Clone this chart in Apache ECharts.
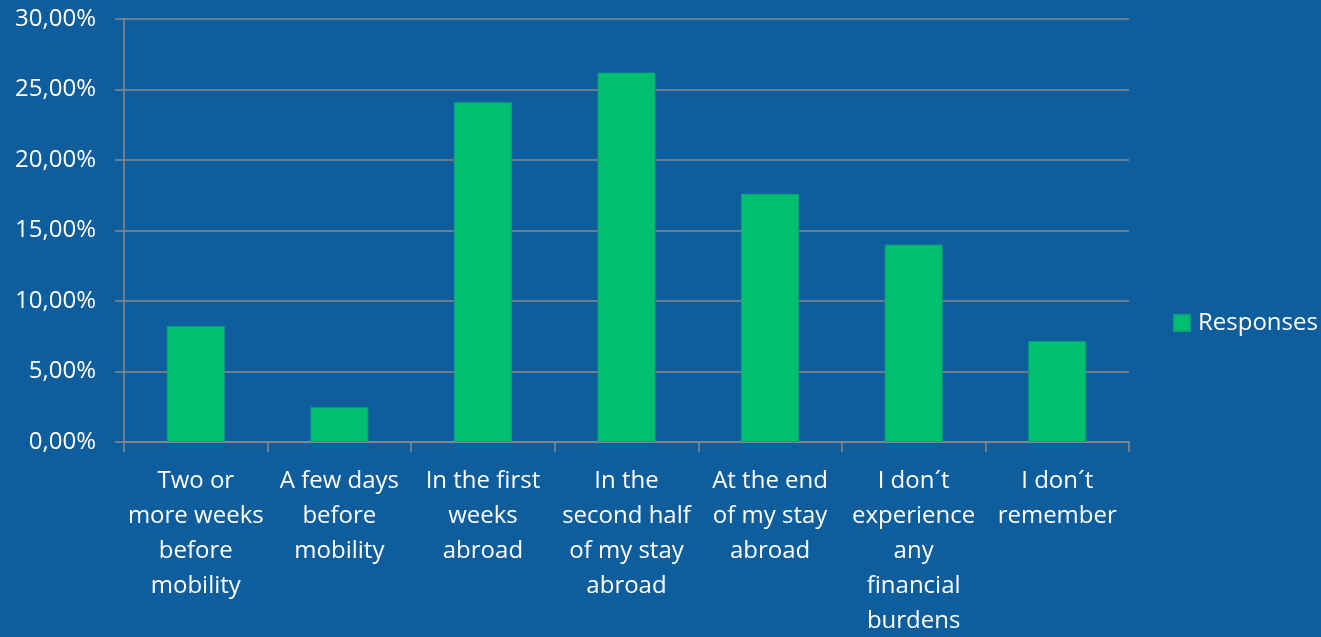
<!DOCTYPE html>
<html>
<head>
<meta charset="utf-8">
<script src="https://cdn.jsdelivr.net/npm/echarts@6/dist/echarts.min.js"></script>
<style>
  html, body { margin: 0; padding: 0; background: #0e5d9c; }
  #chart { width: 1321px; height: 637px; }
</style>
</head>
<body>
<div id="chart"></div>
<script>
// categories (line breaks as in the original chart)
const categories = [
  'Two or\nmore weeks\nbefore\nmobility',
  'A few days\nbefore\nmobility',
  'In the first\nweeks\nabroad',
  'In the\nsecond half\nof my stay\nabroad',
  'At the end\nof my stay\nabroad',
  'I don´t\nexperience\nany\nfinancial\nburdens',
  'I don´t\nremember'
]
const responses = [8.23, 2.48, 24.1, 26.2, 17.6, 14.0, 7.16]
const yTicks = { min: 0, max: 30, interval: 5 }

const chart = echarts.init(document.getElementById('chart'))
const font = '"Open Sans", "Noto Sans", sans-serif'

chart.setOption({
  backgroundColor: '#0e5d9c',
  animation: false,
  textStyle: { fontFamily: font },
  grid: { left: 124, right: 192, top: 19, bottom: 195, outerBoundsMode: 'none' },
  legend: {
    data: ['Responses'],
    left: 1168,
    top: 306,
    orient: 'vertical',
    itemWidth: 16,
    itemHeight: 16,
    icon: 'rect',
    textStyle: { color: '#ffffff', fontSize: 24, fontFamily: font, padding: [0, 0, 0, 3] }
  },
  xAxis: {
    type: 'category',
    data: categories,
    axisLine: { lineStyle: { color: '#8a8a8a', width: 1.5 } },
    axisTick: { show: true, length: 10, lineStyle: { color: '#8a8a8a', width: 1.5 } },
    axisLabel: {
      color: '#ffffff',
      fontSize: 24,
      lineHeight: 35,
      margin: 22,
      interval: 0,
      fontFamily: font
    }
  },
  yAxis: {
    type: 'value',
    min: yTicks.min,
    max: yTicks.max,
    interval: yTicks.interval,
    axisLine: { show: true, lineStyle: { color: '#8a8a8a', width: 1.5 } },
    axisTick: { show: true, length: 9, lineStyle: { color: '#8a8a8a', width: 1.5 } },
    splitLine: { lineStyle: { color: '#8a8a8a', width: 1.5 } },
    axisLabel: {
      color: '#ffffff',
      fontSize: 24,
      margin: 28,
      fontFamily: font,
      formatter: v => v.toFixed(2).replace('.', ',') + '%'
    }
  },
  series: [{
    name: 'Responses',
    type: 'bar',
    data: responses,
    barWidth: 58,
    itemStyle: { color: '#00bf6f', borderColor: '#0aa37a', borderWidth: 1 }
  }]
})
</script>
</body>
</html>
